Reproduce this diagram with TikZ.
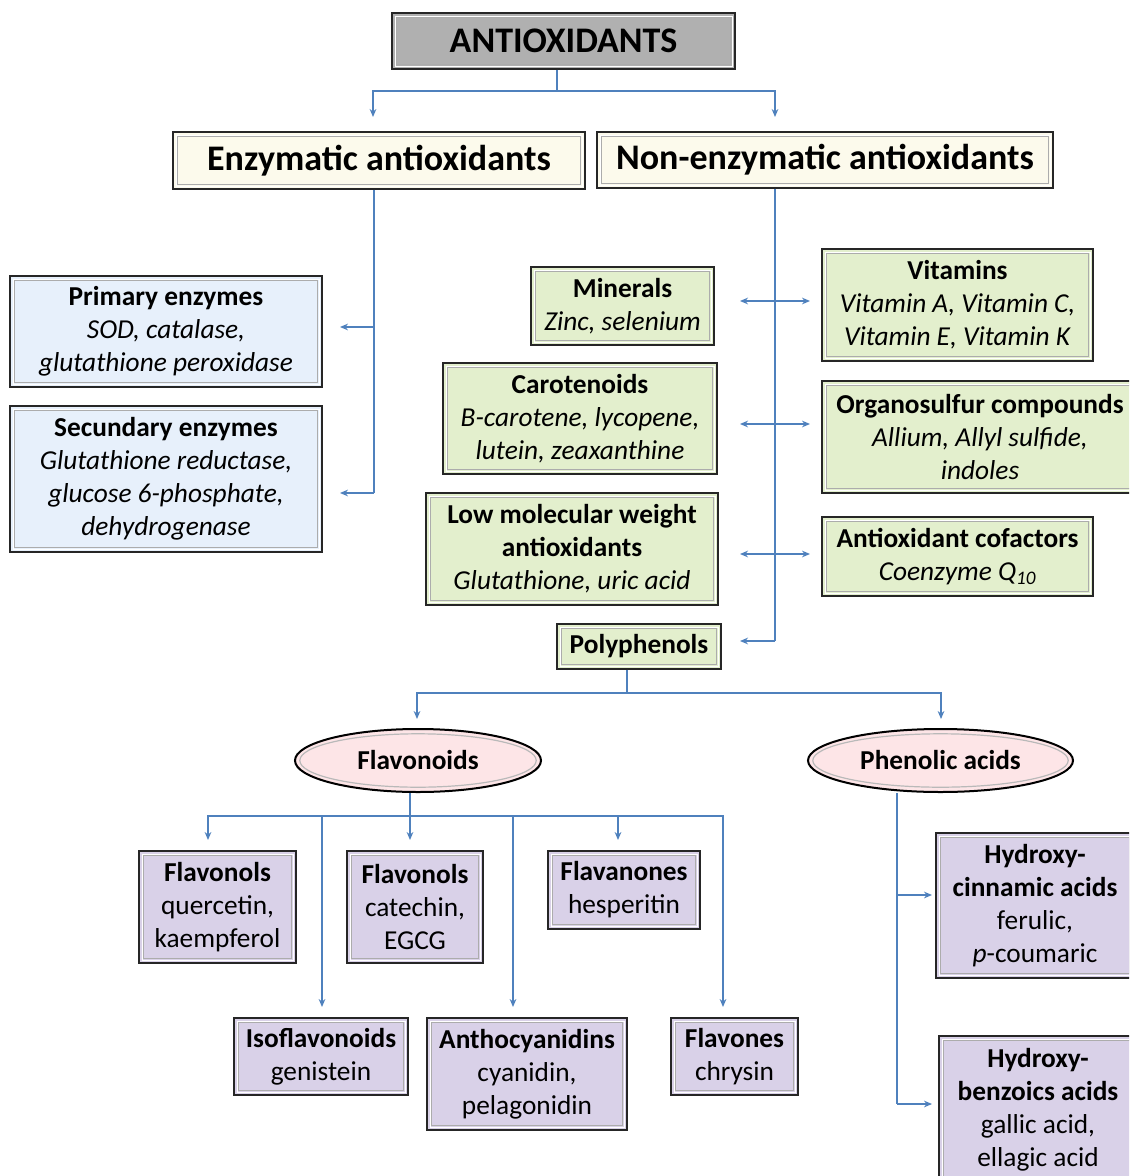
\documentclass[tikz,border=0pt]{standalone}
\usepackage{fontspec}
\setmainfont{Carlito}
\usetikzlibrary{arrows.meta,calc,shapes.geometric}
\definecolor{connc}{HTML}{4F81BD}
\definecolor{titlegray}{HTML}{B0B0B0}
\definecolor{cream}{HTML}{FCFAEC}
\definecolor{lblue}{HTML}{E7F0FB}
\definecolor{lgreen}{HTML}{E3EFCD}
\definecolor{lpink}{HTML}{FDE5E7}
\definecolor{lpurple}{HTML}{D9D1E8}
\begin{document}
\begin{tikzpicture}[x=0.75pt,y=-0.75pt,
  sz/.style 2 args={minimum width=#1*0.75pt, minimum height=#2*0.75pt},
  body/.style={font=\fontsize{20.5pt}{24.75pt}\selectfont},
  head/.style={font=\fontsize{27pt}{32pt}\selectfont\bfseries},
  box/.style={draw=black!85, line width=1.1pt, align=center, inner sep=0pt, body,
    path picture={
      \draw[gray!65, line width=1.1pt]
        ([shift={(3.3pt,3.3pt)}]path picture bounding box.south west) rectangle
        ([shift={(-3.3pt,-3.3pt)}]path picture bounding box.north east);
      \draw[white, line width=0.6pt]
        ([shift={(2.2pt,2.2pt)}]path picture bounding box.south west) rectangle
        ([shift={(-2.2pt,-2.2pt)}]path picture bounding box.north east);
    }},
  oval/.style={ellipse, draw=black, line width=1.5pt, fill=lpink, inner sep=0pt, body, font=\fontsize{20.5pt}{24.75pt}\selectfont\bfseries,
    path picture={
      \draw[gray!55, line width=0.9pt]
        let \p1=($(path picture bounding box.north east)-(path picture bounding box.center)$) in
        (path picture bounding box.center) ellipse ({\x1-3.6pt} and {\y1-3.6pt});
    }},
  conn/.style={draw=connc, line width=1pt},
  arr/.style={conn, -{Stealth[length=6pt,width=5pt]}},
  darr/.style={conn, {Stealth[length=6pt,width=5pt]}-{Stealth[length=6pt,width=5pt]}}
]
\useasboundingbox (0,0) rectangle (1129,1176);
\clip (0,0) rectangle (1129,1176);

% ---------- nodes ----------
\node[box, fill=titlegray, sz={343}{56}, head] (title) at (563.5,41) {ANTIOXIDANTS};
\node[box, fill=cream, sz={412}{57}, head] (enz) at (379,160.5) {Enzymatic antioxidants};
\node[box, fill=cream, sz={456}{56}, head] (nonenz) at (825,160) {Non-enzymatic antioxidants};

\node[box, fill=lblue, sz={312}{111}] (prim) at (166,331.5)
  {\textbf{Primary enzymes}\\\textit{SOD, catalase,}\\\textit{glutathione peroxidase}};
\node[box, fill=lblue, sz={312}{146}] (sec) at (166,479)
  {\textbf{Secundary enzymes}\\\textit{Glutathione reductase,}\\\textit{glucose 6-phosphate,}\\\textit{dehydrogenase}};

\node[box, fill=lgreen, sz={183}{78}] (min) at (622.5,306)
  {\textbf{Minerals}\\\textit{Zinc, selenium}};
\node[box, fill=lgreen, sz={271}{112}] (vit) at (957.5,305)
  {\textbf{Vitamins}\\\textit{Vitamin A, Vitamin C,}\\\textit{Vitamin E, Vitamin K}};
\node[box, fill=lgreen, sz={274}{111}] (car) at (580,418.5)
  {\textbf{Carotenoids}\\\textit{B-carotene, lycopene,}\\\textit{lutein, zeaxanthine}};
\node[box, fill=lgreen, sz={316}{112}] (org) at (980,437)
  {\textbf{Organosulfur compounds}\\\textit{Allium, Allyl sulfide,}\\\textit{indoles}};
\node[box, fill=lgreen, sz={292}{112}] (low) at (572,549)
  {\textbf{Low molecular weight}\\\textbf{antioxidants}\\\textit{Glutathione, uric acid}};
\node[box, fill=lgreen, sz={271}{79}] (cof) at (957.5,556.5)
  {\textbf{Antioxidant cofactors}\\\textit{Coenzyme Q\textsubscript{10}}};
\node[box, fill=lgreen, sz={164}{45}] (poly) at (639,646.5)
  {\textbf{Polyphenols}};

\node[oval, sz={246}{63}] (flav) at (418,760.5) {Flavonoids};
\node[oval, sz={265}{63}] (phen) at (940.5,760.5) {Phenolic acids};

\node[box, fill=lpurple, sz={157}{112}] (fl1) at (217.5,907)
  {\textbf{Flavonols}\\quercetin,\\kaempferol};
\node[box, fill=lpurple, sz={136}{112}] (fl2) at (415,907)
  {\textbf{Flavonols}\\catechin,\\EGCG};
\node[box, fill=lpurple, sz={152}{78}] (flan) at (624,890)
  {\textbf{Flavanones}\\hesperitin};
\node[box, fill=lpurple, sz={174}{77}] (iso) at (321,1056.5)
  {\textbf{Isoflavonoids}\\genistein};
\node[box, fill=lpurple, sz={200}{112}] (anth) at (527,1074)
  {\textbf{Anthocyanidins}\\cyanidin,\\pelagonidin};
\node[box, fill=lpurple, sz={127}{77}] (flvs) at (734.5,1056.5)
  {\textbf{Flavones}\\chrysin};
\node[box, fill=lpurple, sz={198}{145}] (hc) at (1035,905.5)
  {\textbf{Hydroxy-}\\\textbf{cinnamic acids}\\ferulic,\\\textit{p}-coumaric};
\node[box, fill=lpurple, sz={198}{148}] (hb) at (1038,1110)
  {\textbf{Hydroxy-}\\\textbf{benzoics acids}\\gallic acid,\\ellagic acid};

% ---------- coordinates ----------
\coordinate (tJ) at (557,91);
\coordinate (tL) at (373,117);
\coordinate (tR) at (775,117);

\coordinate (eJ) at (374,493);
\coordinate (eP) at (340,327);
\coordinate (eS) at (340,493);

\coordinate (nJ) at (775,641);
\coordinate (nP) at (740,641);
\coordinate (mL) at (740,301);  \coordinate (mR) at (810,301);
\coordinate (cL) at (740,424);  \coordinate (cR) at (810,424);
\coordinate (lL) at (740,554);  \coordinate (lR) at (810,554);

\coordinate (pJ) at (627,693);
\coordinate (pL) at (417,719);
\coordinate (pR) at (941,719);

\coordinate (fJ) at (410,816);
\coordinate (f1) at (208,840);
\coordinate (f2) at (410,840);
\coordinate (f3) at (618,840);
\coordinate (f4) at (322,1007);
\coordinate (f5) at (513,1007);
\coordinate (f6) at (723,1007);

\coordinate (hJ) at (897,1104);
\coordinate (h1) at (932,895);
\coordinate (h2) at (932,1104);

% ---------- connectors ----------
\draw[conn] (title.south -| tJ) -- (tJ);
\draw[arr] (tJ) -| (tL);
\draw[arr] (tJ) -| (tR);

\draw[conn] (enz.south -| eJ) -- (eJ);
\draw[arr] (eP -| eJ) -- (eP);
\draw[arr] (eJ) -- (eS);

\draw[conn] (nonenz.south -| nJ) -- (nJ);
\draw[arr] (nJ) -- (nP);
\draw[darr] (mL) -- (mR);
\draw[darr] (cL) -- (cR);
\draw[darr] (lL) -- (lR);

\draw[conn] (poly.south -| pJ) -- (pJ);
\draw[arr] (pJ) -| (pL);
\draw[arr] (pJ) -| (pR);

\draw[conn] (flav.south -| fJ) -- (fJ);
\draw[arr] (fJ) -| (f1);
\draw[arr] (fJ) -- (f2);
\draw[arr] (fJ) -| (f3);
\draw[arr] (fJ) -| (f6);
\draw[arr] (f4 |- fJ) -- (f4);
\draw[arr] (f5 |- fJ) -- (f5);

\draw[conn] (phen.south -| hJ) -- (hJ);
\draw[arr] (h1 -| hJ) -- (h1);
\draw[arr] (hJ) -- (h2);
\end{tikzpicture}
\end{document}
